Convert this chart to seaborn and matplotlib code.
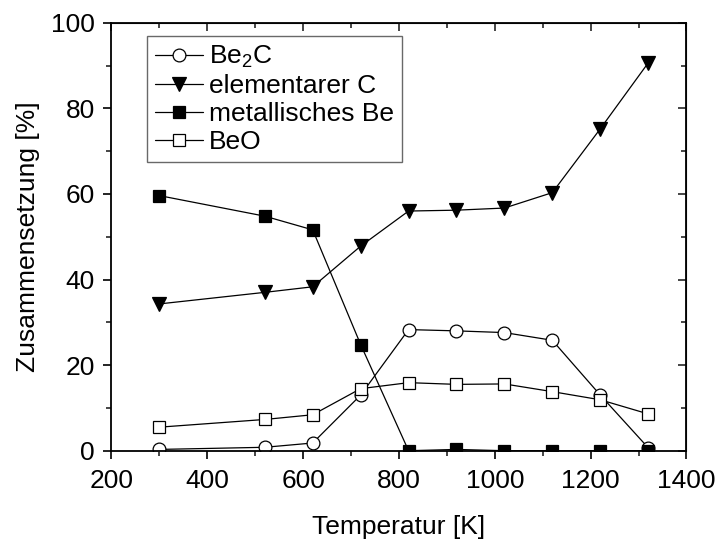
import matplotlib
matplotlib.use("Agg")
import matplotlib.pyplot as plt
from matplotlib.ticker import MultipleLocator
import pandas as pd
import seaborn as sns

# Temperature series (K) and phase composition (%)
temperature = [300, 520, 620, 720, 820, 920, 1020, 1120, 1220, 1320]
be2c = [0.3, 0.8, 1.8, 13.0, 28.3, 28.0, 27.6, 25.8, 13.0, 0.7]
carbon = [34.3, 37.0, 38.3, 47.8, 56.0, 56.2, 56.7, 60.3, 75.2, 90.6]
be_metal = [59.6, 54.8, 51.6, 24.8, 0.0, 0.3, 0.0, 0.0, 0.0, 0.0]
beo = [5.5, 7.3, 8.4, 14.5, 15.9, 15.5, 15.6, 13.8, 11.9, 8.6]

labels = ["Be$_2$C", "elementarer C", "metallisches Be", "BeO"]

sns.set_style("ticks")
plt.rcParams["font.family"] = ["Liberation Sans", "DejaVu Sans"]
plt.rcParams["mathtext.fontset"] = "custom"
plt.rcParams["mathtext.rm"] = "Liberation Sans"
plt.rcParams["mathtext.it"] = "Liberation Sans"
plt.rcParams["mathtext.default"] = "rm"
plt.rcParams["text.color"] = "black"
plt.rcParams["axes.labelcolor"] = "black"

FS = 19

df = pd.DataFrame({
    "T": temperature * 4,
    "value": be2c + carbon + be_metal + beo,
    "phase": sum([[lab] * len(temperature) for lab in labels], []),
})

styles = {
    labels[0]: dict(marker="o", markersize=9.2, markerfacecolor="white"),
    labels[1]: dict(marker="v", markersize=10, markerfacecolor="black"),
    labels[2]: dict(marker="s", markersize=8.5, markerfacecolor="black"),
    labels[3]: dict(marker="s", markersize=8.2, markerfacecolor="white"),
}

fig = plt.figure(figsize=(7.23, 5.41), dpi=100)
ax = fig.add_axes([0.1542, 0.1669, 0.7953, 0.7911])

for lab in labels:
    sub = df[df["phase"] == lab]
    sns.lineplot(data=sub, x="T", y="value", ax=ax, color="black",
                 linewidth=0.9, markeredgecolor="black", markeredgewidth=0.9,
                 label=lab, **styles[lab])

ax.set_xlim(200, 1400)
ax.set_ylim(0, 100)
ax.xaxis.set_major_locator(MultipleLocator(200))
ax.xaxis.set_minor_locator(MultipleLocator(100))
ax.yaxis.set_major_locator(MultipleLocator(20))
ax.yaxis.set_minor_locator(MultipleLocator(10))

for side in ["left", "right", "top", "bottom"]:
    ax.spines[side].set_visible(True)
    ax.spines[side].set_linewidth(1.3)
    ax.spines[side].set_color("black")

ax.tick_params(axis="both", which="major", direction="out", length=6, width=1.2,
               labelsize=FS, colors="black")
ax.tick_params(axis="both", which="minor", direction="out", length=3.5, width=1.2)
ax.tick_params(axis="x", which="major", pad=7)
ax.tick_params(axis="y", which="major", pad=6)

# top and right axes carry inward ticks only
sec_x = ax.secondary_xaxis("top")
sec_x.xaxis.set_major_locator(MultipleLocator(200))
sec_x.xaxis.set_minor_locator(MultipleLocator(100))
sec_x.tick_params(which="major", direction="in", length=6, width=1.2, labeltop=False)
sec_x.tick_params(which="minor", direction="in", length=3.5, width=1.2)
sec_y = ax.secondary_yaxis("right")
sec_y.yaxis.set_major_locator(MultipleLocator(20))
sec_y.yaxis.set_minor_locator(MultipleLocator(10))
sec_y.tick_params(which="major", direction="in", length=6, width=1.2, labelright=False)
sec_y.tick_params(which="minor", direction="in", length=3.5, width=1.2)
ax.tick_params(axis="x", which="both", top=False)
ax.tick_params(axis="y", which="both", right=False)

ax.set_xlabel("Temperatur [K]", fontsize=FS, labelpad=16, color="black")
ax.set_ylabel("Zusammensetzung [%]", fontsize=FS, labelpad=8, color="black")

leg = ax.legend(loc="upper left", bbox_to_anchor=(0.062, 0.969), fontsize=FS,
                frameon=True, fancybox=False, edgecolor="#444444",
                handlelength=1.8, handletextpad=0.25, borderpad=0.3,
                labelspacing=0.15, borderaxespad=0.0)
leg.get_frame().set_linewidth(1.0)
for t in leg.get_texts():
    t.set_color("black")

fig.savefig("out.png", dpi=100)
